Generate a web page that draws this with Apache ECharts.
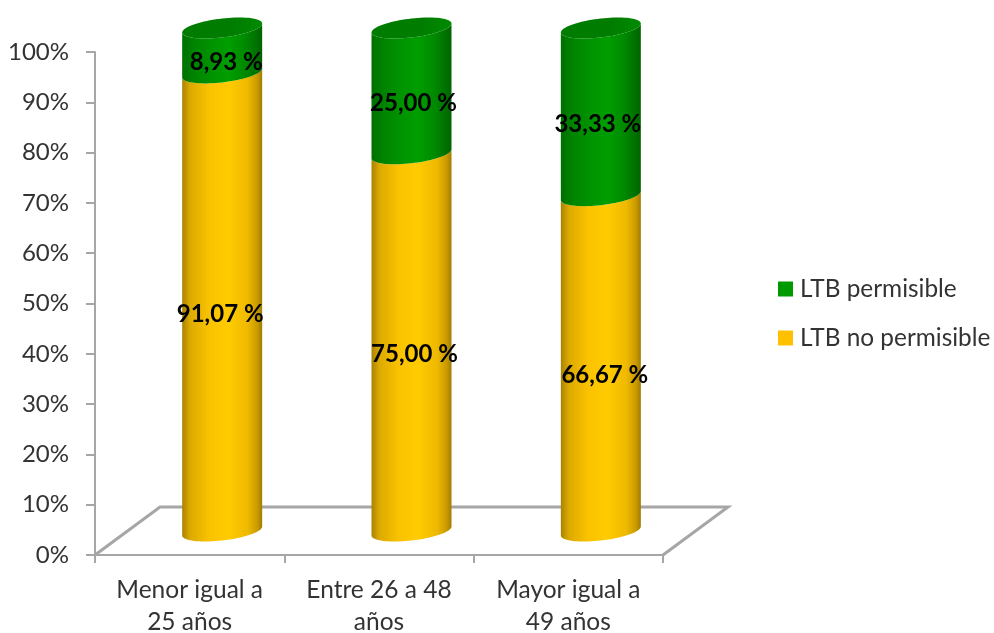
<!DOCTYPE html>
<html>
<head>
<meta charset="utf-8">
<style>html,body{margin:0;padding:0;background:#fff}#c{width:994px;height:633px}</style>
<script src="https://cdn.jsdelivr.net/npm/echarts@6/dist/echarts.min.js"></script>
</head>
<body>
<div id="c"></div>
<script>
const categories = ['Menor igual a\n25 años', 'Entre 26 a 48\naños', 'Mayor igual a\n49 años'];
const noPermisible = [91.07, 75.00, 66.67];
const permisible = [8.93, 25.00, 33.33];
const yTicksMax = 100;

const FONT = 'Lato, Carlito, sans-serif';
const GRAY = '#a6a6a6';
const DEPTH_X = 65, DEPTH_Y = -48;
const BAR_RATIO = 0.4225, RY = 9.5, TILT = 4.5;
const noPermNudge = [-2, 3, 4], permNudge = [4, 2, -3];

function arc(cx, cy, rx, from, to, n) {
  const pts = [];
  for (let i = 0; i <= n; i++) {
    const t = from + (to - from) * i / n;
    pts.push([cx + rx * Math.cos(t), cy + RY * Math.sin(t) - TILT * Math.cos(t)]);
  }
  return pts;
}
function grad(stops) {
  return new echarts.graphic.LinearGradient(0, 0, 1, 0, stops.map(s => ({offset: s[0], color: s[1]})));
}
const GOLD = grad([[0,'#a98300'],[0.1,'#dcaa00'],[0.35,'#fbc300'],[0.58,'#ffcb00'],[0.82,'#efb900'],[0.94,'#c99a00'],[1,'#a07c00']]);
const GREEN = grad([[0,'#006f00'],[0.15,'#008400'],[0.4,'#009500'],[0.58,'#009e00'],[0.8,'#008800'],[1,'#006400']]);
const CAP = new echarts.graphic.LinearGradient(0, 0, 1, 1, [{offset:0,color:'#007c00'},{offset:0.6,color:'#007c00'},{offset:1,color:'#008c00'}]);

function cylinder(fill, nudge, withCap) {
  return function (params, api) {
    const i = api.value(0), lo = api.value(1), hi = api.value(2);
    const rx = api.size([1, 0])[0] * BAR_RATIO / 2;
    const pLo = api.coord([i, lo]), pHi = api.coord([i, hi]);
    const cx = pLo[0] + DEPTH_X / 2, yLo = pLo[1] + DEPTH_Y / 2, yHi = pHi[1] + DEPTH_Y / 2;
    const body = arc(cx, yLo, rx, 0, Math.PI, 40).concat(arc(cx, yHi, rx, Math.PI, 0, 40));
    const children = [{type: 'polygon', shape: {points: body}, style: {fill: fill}}];
    if (withCap) {
      children.push({type: 'polygon', shape: {points: arc(cx, yHi, rx, 0, 2 * Math.PI, 80)}, style: {fill: CAP}});
    }
    children.push({
      type: 'text',
      z2: 10,
      x: cx + nudge[params.dataIndex],
      y: (yLo + yHi) / 2 + 12,
      style: {
        text: (hi - lo).toFixed(2).replace('.', ',') + ' %',
        fill: '#000', font: 'bold 24px ' + FONT, align: 'center', verticalAlign: 'middle'
      }
    });
    return {type: 'group', children: children};
  };
}
const lowData = noPermisible.map((v, i) => [i, 0, v]);
const highData = permisible.map((v, i) => [i, noPermisible[i], noPermisible[i] + v]);

const chart = echarts.init(document.getElementById('c'), null, {renderer: 'canvas'});
chart.setOption({
  animation: false,
  backgroundColor: '#fff',
  grid: {left: 95, right: 331, top: 52, bottom: 78, outerBoundsMode: 'none'},
  legend: {
    data: ['LTB permisible', 'LTB no permisible'],
    orient: 'vertical', left: 773, top: 272, itemWidth: 15, itemHeight: 15, itemGap: 25,
    icon: 'rect',
    textStyle: {fontFamily: FONT, fontSize: 24.4, color: '#333', padding: [0, 0, 0, 2]}
  },
  xAxis: {
    type: 'category', data: categories,
    axisLine: {show: true, lineStyle: {color: GRAY, width: 2}},
    axisTick: {show: true, length: 8, lineStyle: {color: GRAY, width: 2}},
    axisLabel: {fontFamily: FONT, fontSize: 24.5, color: '#333', lineHeight: 32, margin: 19, interval: 0}
  },
  yAxis: {
    type: 'value', min: 0, max: yTicksMax, interval: 10,
    splitLine: {show: false},
    axisLine: {show: true, lineStyle: {color: GRAY, width: 2}},
    axisTick: {show: true, length: 9, lineStyle: {color: GRAY, width: 2}},
    axisLabel: {formatter: '{value}%', fontFamily: FONT, fontSize: 24, color: '#333', margin: 26}
  },
  series: [
    {
      type: 'custom', name: 'floor', silent: true, data: [[0]], z: 1,
      renderItem: function (params, api) {
        const s = params.coordSys, x0 = s.x, x1 = s.x + s.width, y = s.y + s.height;
        return {type: 'polyline', shape: {points: [[x0, y], [x0 + DEPTH_X, y + DEPTH_Y], [x1 + DEPTH_X, y + DEPTH_Y], [x1, y]]},
          style: {stroke: GRAY, lineWidth: 3, fill: null}};
      }
    },
    {type: 'custom', name: 'LTB no permisible', itemStyle: {color: '#ffc000'}, data: lowData, z: 2,
     encode: {x: 0, y: [1, 2]}, renderItem: cylinder(GOLD, noPermNudge, false)},
    {type: 'custom', name: 'LTB permisible', itemStyle: {color: '#009900'}, data: highData, z: 3,
     encode: {x: 0, y: [1, 2]}, renderItem: cylinder(GREEN, permNudge, true)}
  ]
});
</script>
</body>
</html>
